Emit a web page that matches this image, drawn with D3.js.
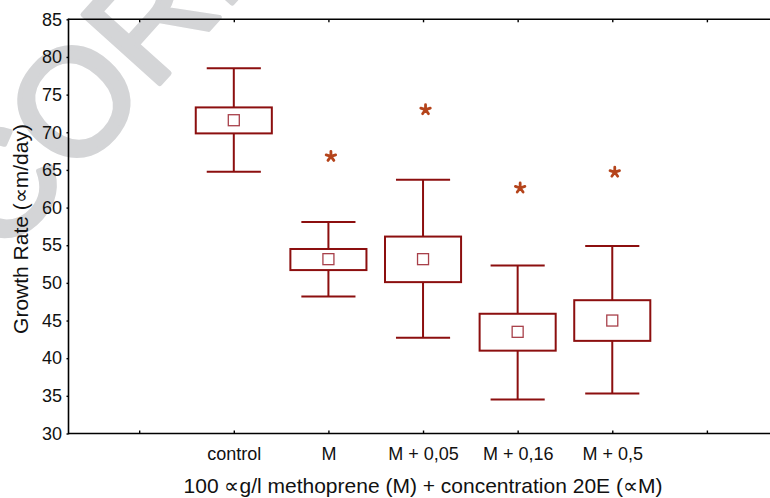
<!DOCTYPE html>
<html><head><meta charset="utf-8">
<script src="https://cdn.jsdelivr.net/npm/d3@7"></script>
<style>
body{margin:0;background:#fff;}
svg{display:block;font-family:"Liberation Sans",Arial,sans-serif;}
</style></head>
<body>
<svg id="c" width="770" height="498"></svg>
<script>
const tickLabels = ["", "control", "M", "M + 0,05", "M + 0,16", "M + 0,5", ""];
const groups = ["control", "M", "M + 0,05", "M + 0,16", "M + 0,5"];
const means = [71.6, 53.15, 53.15, 43.5, 45.0];
const boxLow = [69.85, 51.7, 50.1, 41.0, 42.3];
const boxHigh = [73.3, 54.5, 56.15, 45.9, 47.7];
const whiskerLow = [64.75, 48.2, 42.7, 34.5, 35.3];
const whiskerHigh = [78.5, 58.1, 63.7, 52.3, 54.9];
const outliers = [null, 66.8, 73.0, 62.6, 64.7];
const yTicks = [30, 35, 40, 45, 50, 55, 60, 65, 70, 75, 80, 85];

const svg = d3.select("#c");
const L = 68.5, R = 770, T = 19.3, B = 433.5;

// watermark
svg.append("text")
  .attr("transform", "translate(1,260) rotate(-48)")
  .attr("font-size", 150)
  .attr("fill", "#d4d5d7")
  .attr("stroke", "#d4d5d7")
  .attr("stroke-width", 5)
  .attr("stroke-linejoin", "round")
  .text("CORRECTED PROOF");

const x = d3.scaleLinear().domain([0.253, 7.667]).range([L, R]);
const y = d3.scaleLinear().domain([30, 85]).range([B, T]);

const data = groups.map((g, i) => ({
  g, pos: i + 2, mean: means[i], lo: boxLow[i], hi: boxHigh[i],
  wl: whiskerLow[i], wh: whiskerHigh[i], out: outliers[i]
}));

// axes
const xb = d3.axisBottom(x).tickValues(d3.range(1, 8))
  .tickFormat(d => tickLabels[d - 1]).tickSizeInner(-3).tickSizeOuter(0).tickPadding(13.7);
const gx = svg.append("g").attr("transform", `translate(0,${B})`).call(xb);
const xt = d3.axisTop(x).tickValues(d3.range(1, 8)).tickFormat("").tickSizeInner(-3).tickSizeOuter(0);
const gt = svg.append("g").attr("transform", `translate(0,${T})`).call(xt);
const ya = d3.axisLeft(y).tickValues(yTicks).tickSizeInner(2).tickSizeOuter(0).tickPadding(4.5);
const gy = svg.append("g").attr("transform", `translate(${L},0)`).call(ya);

[gx, gt, gy].forEach(g => {
  g.select(".domain").attr("stroke", "#000").attr("stroke-width", 1.6);
  g.selectAll(".tick line").attr("stroke", "#000").attr("stroke-width", 1.4);
  g.selectAll("text").attr("font-size", 18).attr("fill", "#111")
    .attr("font-family", '"Liberation Sans",Arial,sans-serif');
});
gx.select(".domain").attr("d", `M${L},0H${R}`);
gt.select(".domain").attr("d", `M${L},0H${R}`);
gy.select(".domain").attr("d", `M0,${T - 0.8}V${B + 0.8}`);

// boxes
const col = "#8c0f0f";
const step = x(2) - x(1);
const bw = step * 0.402, cw = step * 0.286;
const gb = svg.append("g");
data.forEach(d => {
  const cx = x(d.pos);
  const g = gb.append("g");
  g.append("line").attr("x1", cx).attr("x2", cx).attr("y1", y(d.wh)).attr("y2", y(d.hi))
    .attr("stroke", col).attr("stroke-width", 2);
  g.append("line").attr("x1", cx).attr("x2", cx).attr("y1", y(d.lo)).attr("y2", y(d.wl))
    .attr("stroke", col).attr("stroke-width", 2);
  g.append("line").attr("x1", cx - cw).attr("x2", cx + cw).attr("y1", y(d.wh)).attr("y2", y(d.wh))
    .attr("stroke", col).attr("stroke-width", 2);
  g.append("line").attr("x1", cx - cw).attr("x2", cx + cw).attr("y1", y(d.wl)).attr("y2", y(d.wl))
    .attr("stroke", col).attr("stroke-width", 2);
  g.append("rect").attr("x", cx - bw).attr("width", 2 * bw)
    .attr("y", y(d.hi)).attr("height", y(d.lo) - y(d.hi))
    .attr("fill", "none").attr("stroke", col).attr("stroke-width", 2);
  g.append("rect").attr("x", cx - 5.5).attr("y", y(d.mean) - 5.5).attr("width", 11).attr("height", 11)
    .attr("fill", "none").attr("stroke", "#a8404a").attr("stroke-width", 1.3);
  if (d.out != null) {
    const p = d3.path();
    const r = 5;
    for (let k = 0; k < 5; k++) {
      const a = -Math.PI / 2 + k * 2 * Math.PI / 5;
      p.moveTo(0, 0);
      p.lineTo(r * Math.cos(a), r * Math.sin(a));
    }
    g.append("path").attr("d", p.toString())
      .attr("transform", `translate(${cx + 2.5},${y(d.out)})`)
      .attr("stroke", "#b5441b").attr("stroke-width", 2.8).attr("stroke-linecap", "round").attr("fill", "none");
  }
});

// titles
svg.append("text").attr("transform", "translate(28,229) rotate(-90)")
  .attr("text-anchor", "middle").attr("font-size", 21).attr("fill", "#111")
  .text("Growth Rate (\u221Dm/day)");
svg.append("text").attr("x", 423).attr("y", 493)
  .attr("text-anchor", "middle").attr("font-size", 21).attr("fill", "#111")
  .text("100 \u221Dg/l methoprene (M) + concentration 20E (\u221DM)");
</script>
</body></html>
